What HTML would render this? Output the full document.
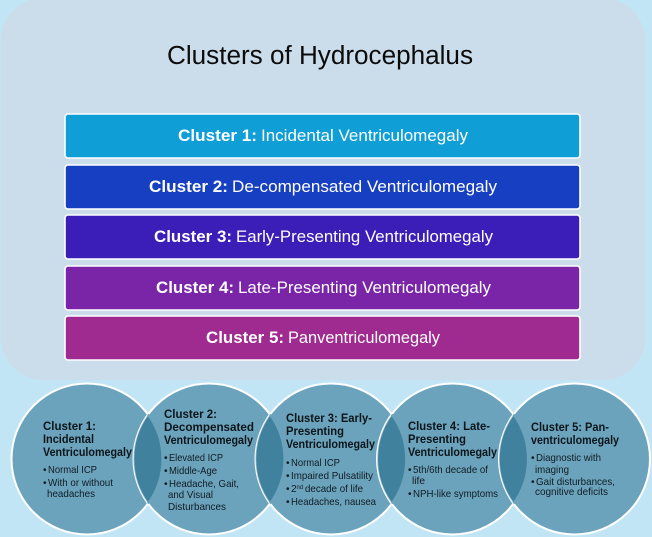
<!DOCTYPE html>
<html lang="en">
<head>
<meta charset="utf-8">
<title>Clusters of Hydrocephalus</title>
<style>
html,body{margin:0;padding:0;width:652px;height:537px;overflow:hidden;background:#c1e5f5}
svg{display:block}
text{font-family:"Liberation Sans",sans-serif}
.b{font-weight:bold;font-size:11.6px;fill:#0b151a}
.t{font-size:10.2px;fill:#0f1c24}
.w{fill:#fff;font-size:17px}
.wb{fill:#fff;font-size:17px;font-weight:bold}
</style>
</head>
<body>
<svg width="652" height="537" viewBox="0 0 652 537" xmlns="http://www.w3.org/2000/svg">
<rect width="652" height="537" fill="#c1e5f5"/>
<rect x="1" y="-2" width="644" height="382" rx="42" fill="#cbddeb"/>
<text x="167" y="64" font-size="25.5" fill="#0b0b0b" textLength="306" lengthAdjust="spacingAndGlyphs">Clusters of Hydrocephalus</text>

<g stroke="#fff" stroke-width="1.6">
<rect x="65" y="114" width="515" height="44" rx="3" fill="#0f9ed5"/>
<rect x="65" y="165" width="515" height="44" rx="3" fill="#163fc2"/>
<rect x="65" y="215" width="515" height="44" rx="3" fill="#3b1eb8"/>
<rect x="65" y="266" width="515" height="44" rx="3" fill="#7a25a8"/>
<rect x="65" y="316" width="515" height="44" rx="3" fill="#a02b90"/>
</g>
<text class="wb" x="178" y="141" textLength="79" lengthAdjust="spacingAndGlyphs">Cluster 1:</text>
<text class="w" x="261" y="141" textLength="207" lengthAdjust="spacingAndGlyphs">Incidental Ventriculomegaly</text>
<text class="wb" x="149" y="192" textLength="79" lengthAdjust="spacingAndGlyphs">Cluster 2:</text>
<text class="w" x="232" y="192" textLength="265" lengthAdjust="spacingAndGlyphs">De-compensated Ventriculomegaly</text>
<text class="wb" x="154" y="242" textLength="78" lengthAdjust="spacingAndGlyphs">Cluster 3:</text>
<text class="w" x="236" y="242" textLength="257" lengthAdjust="spacingAndGlyphs">Early-Presenting Ventriculomegaly</text>
<text class="wb" x="156" y="293" textLength="78" lengthAdjust="spacingAndGlyphs">Cluster 4:</text>
<text class="w" x="238" y="293" textLength="253" lengthAdjust="spacingAndGlyphs">Late-Presenting Ventriculomegaly</text>
<text class="wb" x="206" y="343" textLength="78" lengthAdjust="spacingAndGlyphs">Cluster 5:</text>
<text class="w" x="288" y="343" textLength="152" lengthAdjust="spacingAndGlyphs">Panventriculomegaly</text>

<g fill="#6ca3bc" stroke="#fff" stroke-width="2">
<circle cx="87" cy="459" r="75.5"/>
<circle cx="209" cy="459" r="75.5"/>
<circle cx="331" cy="459" r="75.5"/>
<circle cx="452.5" cy="459" r="75.5"/>
<circle cx="574.5" cy="459" r="75.5"/>
</g>
<!-- overlap lenses -->
<g fill="#40819e" stroke="#fff" stroke-opacity="0">
<path d="M148 414.500A75.500 75.500 0 0 0 148 503.500A75.500 75.500 0 0 0 148 414.500Z"/>
<path d="M270 414.500A75.500 75.500 0 0 0 270 503.500A75.500 75.500 0 0 0 270 414.500Z"/>
<path d="M391.750 414.500A75.500 75.500 0 0 0 391.750 503.500A75.500 75.500 0 0 0 391.750 414.500Z"/>
<path d="M513.500 414.500A75.500 75.500 0 0 0 513.500 503.500A75.500 75.500 0 0 0 513.500 414.500Z"/>
</g>
<g fill="none" stroke="#fff" stroke-opacity="0.5" stroke-width="1.6">
<path d="M148 414.500A75.500 75.500 0 0 0 148 503.500"/>
<path d="M270 414.500A75.500 75.500 0 0 0 270 503.500"/>
<path d="M391.750 414.500A75.500 75.500 0 0 0 391.750 503.500"/>
<path d="M513.500 414.500A75.500 75.500 0 0 0 513.500 503.500"/>
</g>
<g fill="none" stroke="#6ca3bc" stroke-width="2.2">
<path d="M148 414.500A75.500 75.500 0 0 1 148 503.500"/>
<path d="M270 414.500A75.500 75.500 0 0 1 270 503.500"/>
<path d="M391.750 414.500A75.500 75.500 0 0 1 391.750 503.500"/>
<path d="M513.500 414.500A75.500 75.500 0 0 1 513.500 503.500"/>
</g>

<text class="b" x="43" y="430" textLength="53" lengthAdjust="spacingAndGlyphs">Cluster 1:</text>
<text class="b" x="43" y="443" textLength="51" lengthAdjust="spacingAndGlyphs">Incidental</text>
<text class="b" x="43" y="456" textLength="89" lengthAdjust="spacingAndGlyphs">Ventriculomegaly</text>
<text class="t" x="43" y="473">•</text>
<text class="t" x="48" y="473" textLength="49" lengthAdjust="spacingAndGlyphs">Normal ICP</text>
<text class="t" x="43" y="486">•</text>
<text class="t" x="48" y="486" textLength="65" lengthAdjust="spacingAndGlyphs">With or without</text>
<text class="t" x="47" y="497" textLength="48" lengthAdjust="spacingAndGlyphs">headaches</text>

<text class="b" x="164" y="418" textLength="53" lengthAdjust="spacingAndGlyphs">Cluster 2:</text>
<text class="b" x="164" y="431" textLength="90" lengthAdjust="spacingAndGlyphs">Decompensated</text>
<text class="b" x="164" y="444" textLength="89" lengthAdjust="spacingAndGlyphs">Ventriculomegaly</text>
<text class="t" x="164" y="461">•</text>
<text class="t" x="169" y="461" textLength="54" lengthAdjust="spacingAndGlyphs">Elevated ICP</text>
<text class="t" x="164" y="474">•</text>
<text class="t" x="169" y="474" textLength="48" lengthAdjust="spacingAndGlyphs">Middle-Age</text>
<text class="t" x="164" y="487">•</text>
<text class="t" x="169" y="487" textLength="70" lengthAdjust="spacingAndGlyphs">Headache, Gait,</text>
<text class="t" x="168" y="498" textLength="45" lengthAdjust="spacingAndGlyphs">and Visual</text>
<text class="t" x="168" y="510" textLength="58" lengthAdjust="spacingAndGlyphs">Disturbances</text>

<text class="b" x="286" y="422" textLength="86" lengthAdjust="spacingAndGlyphs">Cluster 3: Early-</text>
<text class="b" x="286" y="435" textLength="58" lengthAdjust="spacingAndGlyphs">Presenting</text>
<text class="b" x="286" y="448" textLength="89" lengthAdjust="spacingAndGlyphs">Ventriculomegaly</text>
<text class="t" x="286" y="466">•</text>
<text class="t" x="291" y="466" textLength="49" lengthAdjust="spacingAndGlyphs">Normal ICP</text>
<text class="t" x="286" y="479">•</text>
<text class="t" x="291" y="479" textLength="82" lengthAdjust="spacingAndGlyphs">Impaired Pulsatility</text>
<text class="t" x="286" y="492">•</text>
<text class="t" x="291" y="492">2</text>
<text x="296.500" y="489" font-size="6" fill="#0f1c24">nd</text>
<text class="t" x="305" y="492" textLength="58" lengthAdjust="spacingAndGlyphs">decade of life</text>
<text class="t" x="286" y="505">•</text>
<text class="t" x="291" y="505" textLength="85" lengthAdjust="spacingAndGlyphs">Headaches, nausea</text>

<text class="b" x="408" y="430" textLength="82" lengthAdjust="spacingAndGlyphs">Cluster 4: Late-</text>
<text class="b" x="408" y="443" textLength="58" lengthAdjust="spacingAndGlyphs">Presenting</text>
<text class="b" x="408" y="456" textLength="89" lengthAdjust="spacingAndGlyphs">Ventriculomegaly</text>
<text class="t" x="408" y="473">•</text>
<text class="t" x="413" y="473" textLength="75" lengthAdjust="spacingAndGlyphs">5th/6th decade of</text>
<text class="t" x="412" y="484" textLength="13" lengthAdjust="spacingAndGlyphs">life</text>
<text class="t" x="408" y="497">•</text>
<text class="t" x="413" y="497" textLength="85" lengthAdjust="spacingAndGlyphs">NPH-like symptoms</text>

<text class="b" x="531" y="431" textLength="78" lengthAdjust="spacingAndGlyphs">Cluster 5: Pan-</text>
<text class="b" x="531" y="444" textLength="88" lengthAdjust="spacingAndGlyphs">ventriculomegaly</text>
<text class="t" x="531" y="461">•</text>
<text class="t" x="536" y="461" textLength="65" lengthAdjust="spacingAndGlyphs">Diagnostic with</text>
<text class="t" x="535" y="473" textLength="34" lengthAdjust="spacingAndGlyphs">imaging</text>
<text class="t" x="531" y="485">•</text>
<text class="t" x="536" y="485" textLength="79" lengthAdjust="spacingAndGlyphs">Gait disturbances,</text>
<text class="t" x="535" y="495" textLength="73" lengthAdjust="spacingAndGlyphs">cognitive deficits</text>
</svg>
</body>
</html>
